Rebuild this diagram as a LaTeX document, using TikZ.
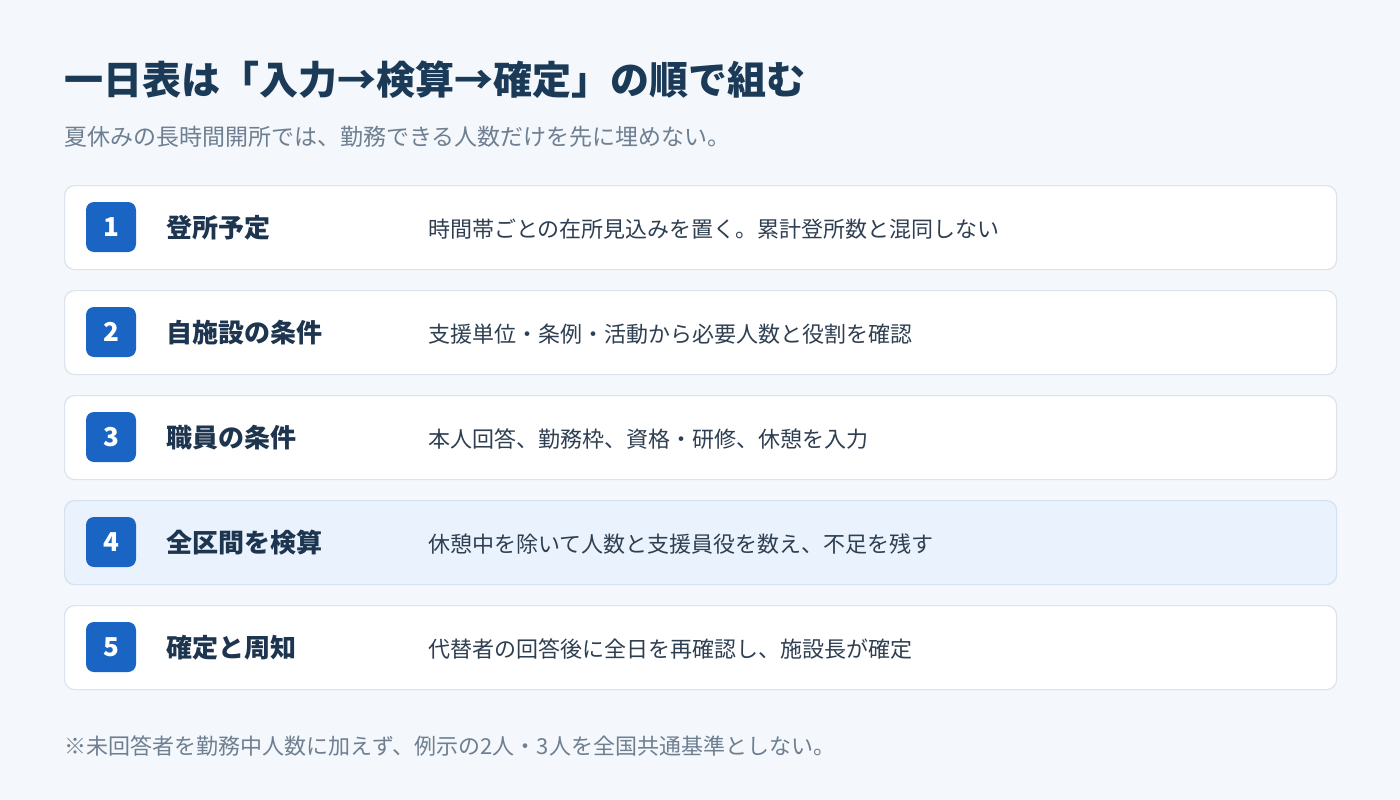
\documentclass[tikz,border=0pt]{standalone}
\usepackage{fontspec}
\setmainfont{Noto Sans CJK JP}

\definecolor{bgcol}{HTML}{F4F7FB}
\definecolor{cardline}{HTML}{DCE3EB}
\definecolor{hicard}{HTML}{EAF3FD}
\definecolor{hiline}{HTML}{D3E1F0}
\definecolor{badgecol}{HTML}{1A64C4}
\definecolor{titlecol}{HTML}{1B3A57}
\definecolor{headcol}{HTML}{1E3550}
\definecolor{desccol}{HTML}{2F3F52}
\definecolor{notecol}{HTML}{6E7F91}

\begin{document}
\begin{tikzpicture}[x=1pt,y=-1pt,
  card/.style={draw=cardline, fill=white, line width=1.2pt, rounded corners=10pt,
    minimum width=1272pt, minimum height=84pt, anchor=north west},
  hi/.style={draw=hiline, fill=hicard},
  badge/.style={fill=badgecol, rounded corners=8pt, minimum size=50pt, inner sep=0,
    text=white, font=\fontsize{26}{30}\selectfont\bfseries},
  head/.style={anchor=west, inner sep=0, text=headcol, font=\fontsize{26}{30}\selectfont\bfseries},
  desc/.style={anchor=west, inner sep=0, text=desccol, font=\fontsize{22}{26}\selectfont},
  note/.style={anchor=west, inner sep=0, text=notecol, font=\fontsize{22}{26}\selectfont}]

\useasboundingbox[fill=bgcol] (0,0) rectangle (1400,800);

% title and lead
\node [anchor=west, inner sep=0, text=titlecol, font=\fontsize{39}{44}\selectfont\bfseries] (title) at (64,80) {一日表は「入力→検算→確定」の順で組む};
\node [note, font=\fontsize{23}{27}\selectfont] (lead) at (64,137) {夏休みの長時間開所では、勤務できる人数だけを先に埋めない。};

% step 1
\node [card] (row1) at (64,185) {};
\node [badge] (num1) at (111,227) {1};
\node [head] (head1) at (166,228) {登所予定};
\node [desc] (desc1) at (428,229) {時間帯ごとの在所見込みを置く。累計登所数と混同しない};

% step 2
\node [card] (row2) at (64,290) {};
\node [badge] (num2) at (111,332) {2};
\node [head] (head2) at (166,333) {自施設の条件};
\node [desc] (desc2) at (428,334) {支援単位・条例・活動から必要人数と役割を確認};

% step 3
\node [card] (row3) at (64,395) {};
\node [badge] (num3) at (111,437) {3};
\node [head] (head3) at (166,438) {職員の条件};
\node [desc] (desc3) at (428,439) {本人回答、勤務枠、資格・研修、休憩を入力};

% step 4 (highlighted)
\node [card, hi] (row4) at (64,500) {};
\node [badge] (num4) at (111,542) {4};
\node [head] (head4) at (166,543) {全区間を検算};
\node [desc] (desc4) at (428,544) {休憩中を除いて人数と支援員役を数え、不足を残す};

% step 5
\node [card] (row5) at (64,605) {};
\node [badge] (num5) at (111,647) {5};
\node [head] (head5) at (166,648) {確定と周知};
\node [desc] (desc5) at (428,649) {代替者の回答後に全日を再確認し、施設長が確定};

% footnote
\node [note] (foot) at (64,746) {※未回答者を勤務中人数に加えず、例示の2人・3人を全国共通基準としない。};

\end{tikzpicture}
\end{document}
